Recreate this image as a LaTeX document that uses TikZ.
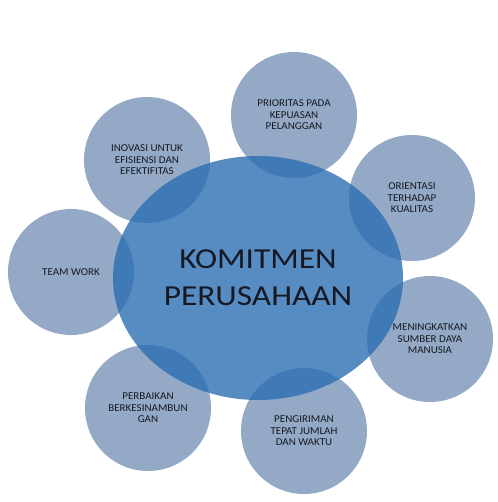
\documentclass[tikz,border=0pt]{standalone}
\usepackage{fontspec}
\setmainfont{Carlito}
\newfontfamily\smallfnt[FakeStretch=1.05]{Carlito}
\newfontfamily\bigfnt[FakeStretch=1.15]{Carlito}
\usetikzlibrary{shapes.geometric}
\definecolor{circfill}{RGB}{147,169,198}
\definecolor{ellfill}{RGB}{40,108,178}
\definecolor{txt}{RGB}{22,24,34}
\begin{document}
\begin{tikzpicture}[x=1pt,y=-1pt,
  topic/.style={circle,fill=circfill,minimum size=126pt,inner sep=0pt,align=center,
    font=\smallfnt\fontsize{10.5}{11.5}\selectfont,text=txt},
  core/.style={ellipse,fill=ellfill,fill opacity=0.78,text opacity=1,minimum width=290pt,minimum height=244pt,
    inner sep=0pt,align=center,font=\bigfnt\fontsize{29}{37}\selectfont,text=txt}]
\useasboundingbox (0,0) rectangle (497,502);
\node[topic] (inov) at (147,160) {INOVASI UNTUK\\EFISIENSI DAN\\EFEKTIFITAS};
\node[topic] (prio) at (294,115) {PRIORITAS PADA\\KEPUASAN\\PELANGGAN};
\node[topic] (orie) at (412,198) {ORIENTASI\\TERHADAP\\KUALITAS};
\node[topic] (team) at (71,272) {TEAM WORK};
\node[topic] (meni) at (430,339) {MENINGKATKAN\\SUMBER DAYA\\MANUSIA};
\node[topic] (perb) at (148,408) {PERBAIKAN\\BERKESINAMBUN\\GAN};
\node[topic] (peng) at (304,431) {PENGIRIMAN\\TEPAT JUMLAH\\DAN WAKTU};
\node[core] (kom) at (258,278) {KOMITMEN\\PERUSAHAAN};
\end{tikzpicture}
\end{document}
